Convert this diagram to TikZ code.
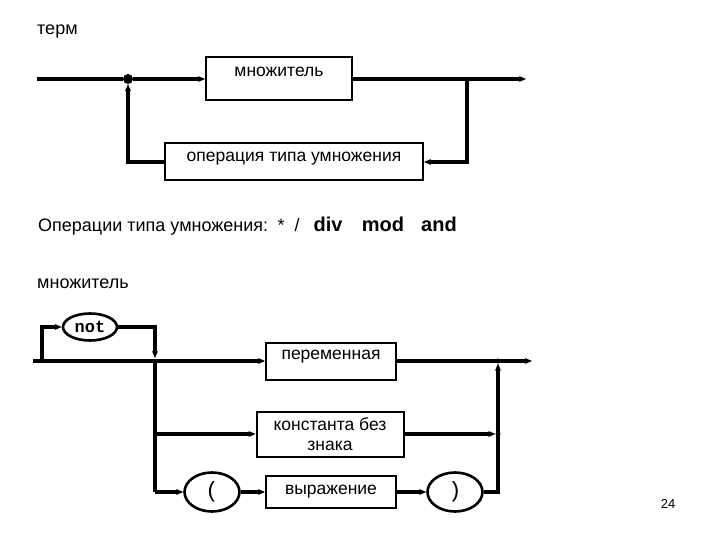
\documentclass[tikz,border=0pt]{standalone}
\usepackage{fontspec}
\setmainfont{Liberation Sans}
\newfontfamily\codefont{Liberation Mono}
\usetikzlibrary{arrows.meta,positioning,shapes.geometric}
\tikzset{
  >={Stealth[length=7pt,width=6pt]},
  sline/.style={line width=3.2pt},
  sarr/.style={sline, ->},
  sbox/.style={draw, line width=2pt, inner sep=0pt, align=center,
               font=\fontsize{17.5}{20}\selectfont},
  sterm/.style={ellipse, draw, line width=2.6pt, inner sep=0pt,
                minimum width=55pt, minimum height=39pt},
  slbl/.style={anchor=west, inner sep=0pt, font=\fontsize{18}{21}\selectfont},
  sop/.style={anchor=base, inner sep=0pt, font=\fontsize{20}{22}\selectfont\bfseries},
  sdot/.style={circle, fill, inner sep=0pt, minimum size=10pt},
  sjoin/.style={circle, fill, inner sep=0pt, minimum size=5pt},
}
\begin{document}
\begin{tikzpicture}[x=1pt,y=-1pt]
  \useasboundingbox (0,0) rectangle (720,540);

  % term
  \node[slbl] (tname) at (37,32) {терм};
  \node[sbox, minimum width=146pt, text height=19pt, text depth=24pt] (tmul) at (279,79) {множитель};
  \node[sbox, minimum width=258pt, text height=18pt, text depth=19pt] (top) at (294,162) {операция типа умножения};
  \coordinate (tin) at (37,79);
  \node[sdot] (tj) at (128,79) {};
  \coordinate (tsplit) at (467,79);
  \coordinate (tout) at (526,79);

  \draw[sline] (tin) -- (tj);
  \draw[sarr] (tj) -- (tmul);
  \draw[sarr] (tmul) -- (tout);
  \draw[sarr] (tsplit) |- (top);
  \draw[sarr] (top) -| (tj);

  \node[slbl, anchor=base west] (tops) at (38,231) {Операции типа умножения:};
  \node[sop, font=\fontsize{18}{21}\selectfont] (tstar) at (281,231) {*};
  \node[sop, font=\fontsize{18}{21}\selectfont] (tslash) at (297,231) {/};
  \node[sop] (tdiv) at (328,231) {div};
  \node[sop] (tmod) at (383,231) {mod};
  \node[sop] (tand) at (439,231) {and};

  % factor
  \node[slbl] (mname) at (37,284) {множитель};
  \node[sterm, minimum width=54pt, minimum height=27pt, font=\codefont\bfseries\fontsize{17}{19}\selectfont] (mnot) at (90,327) {not};
  \node[sbox, minimum width=130pt, text height=17pt, text depth=20pt] (mvar) at (331,361) {переменная};
  \node[sbox, minimum width=147pt, minimum height=45pt] (mconst) at (330,434) {константа без\\знака};
  \node[sterm, font=\codefont\fontsize{22}{24}\selectfont] (mlpar) at (212,492) {(};
  \node[sbox, minimum width=130pt, text height=18pt, text depth=14pt] (mexpr) at (331,492) {выражение};
  \node[sterm, font=\codefont\fontsize{22}{24}\selectfont] (mrpar) at (455,492) {)};

  \coordinate (min) at (33,361);
  \coordinate (mloop) at (42,361);
  \coordinate (mnotj) at (155,361);
  \coordinate (mdown) at (155,492);
  \node[sjoin] (mj1) at (498,361) {};
  \node[sjoin] (mj2) at (498,434) {};
  \coordinate (mout) at (532,361);

  \draw[sarr] (min) -- (mvar);
  \draw[sarr] (mloop) |- (mnot);
  \draw[sarr, shorten >=3pt] (mnot) -| (mnotj);
  \draw[sline] (mnotj) -- (mdown);
  \draw[sarr] (mnotj |- mconst) -- (mconst);
  \draw[sarr] (mdown) -- (mlpar);
  \draw[sarr] (mlpar) -- (mexpr);
  \draw[sarr] (mexpr) -- (mrpar);
  \draw[sarr] (mrpar) -| (mj1);
  \draw[sarr] (mconst) -- (mj2);
  \draw[sarr] (mvar) -- (mout);

  \node[font=\fontsize{13}{15}\selectfont] (pnum) at (668,504) {24};
\end{tikzpicture}
\end{document}
